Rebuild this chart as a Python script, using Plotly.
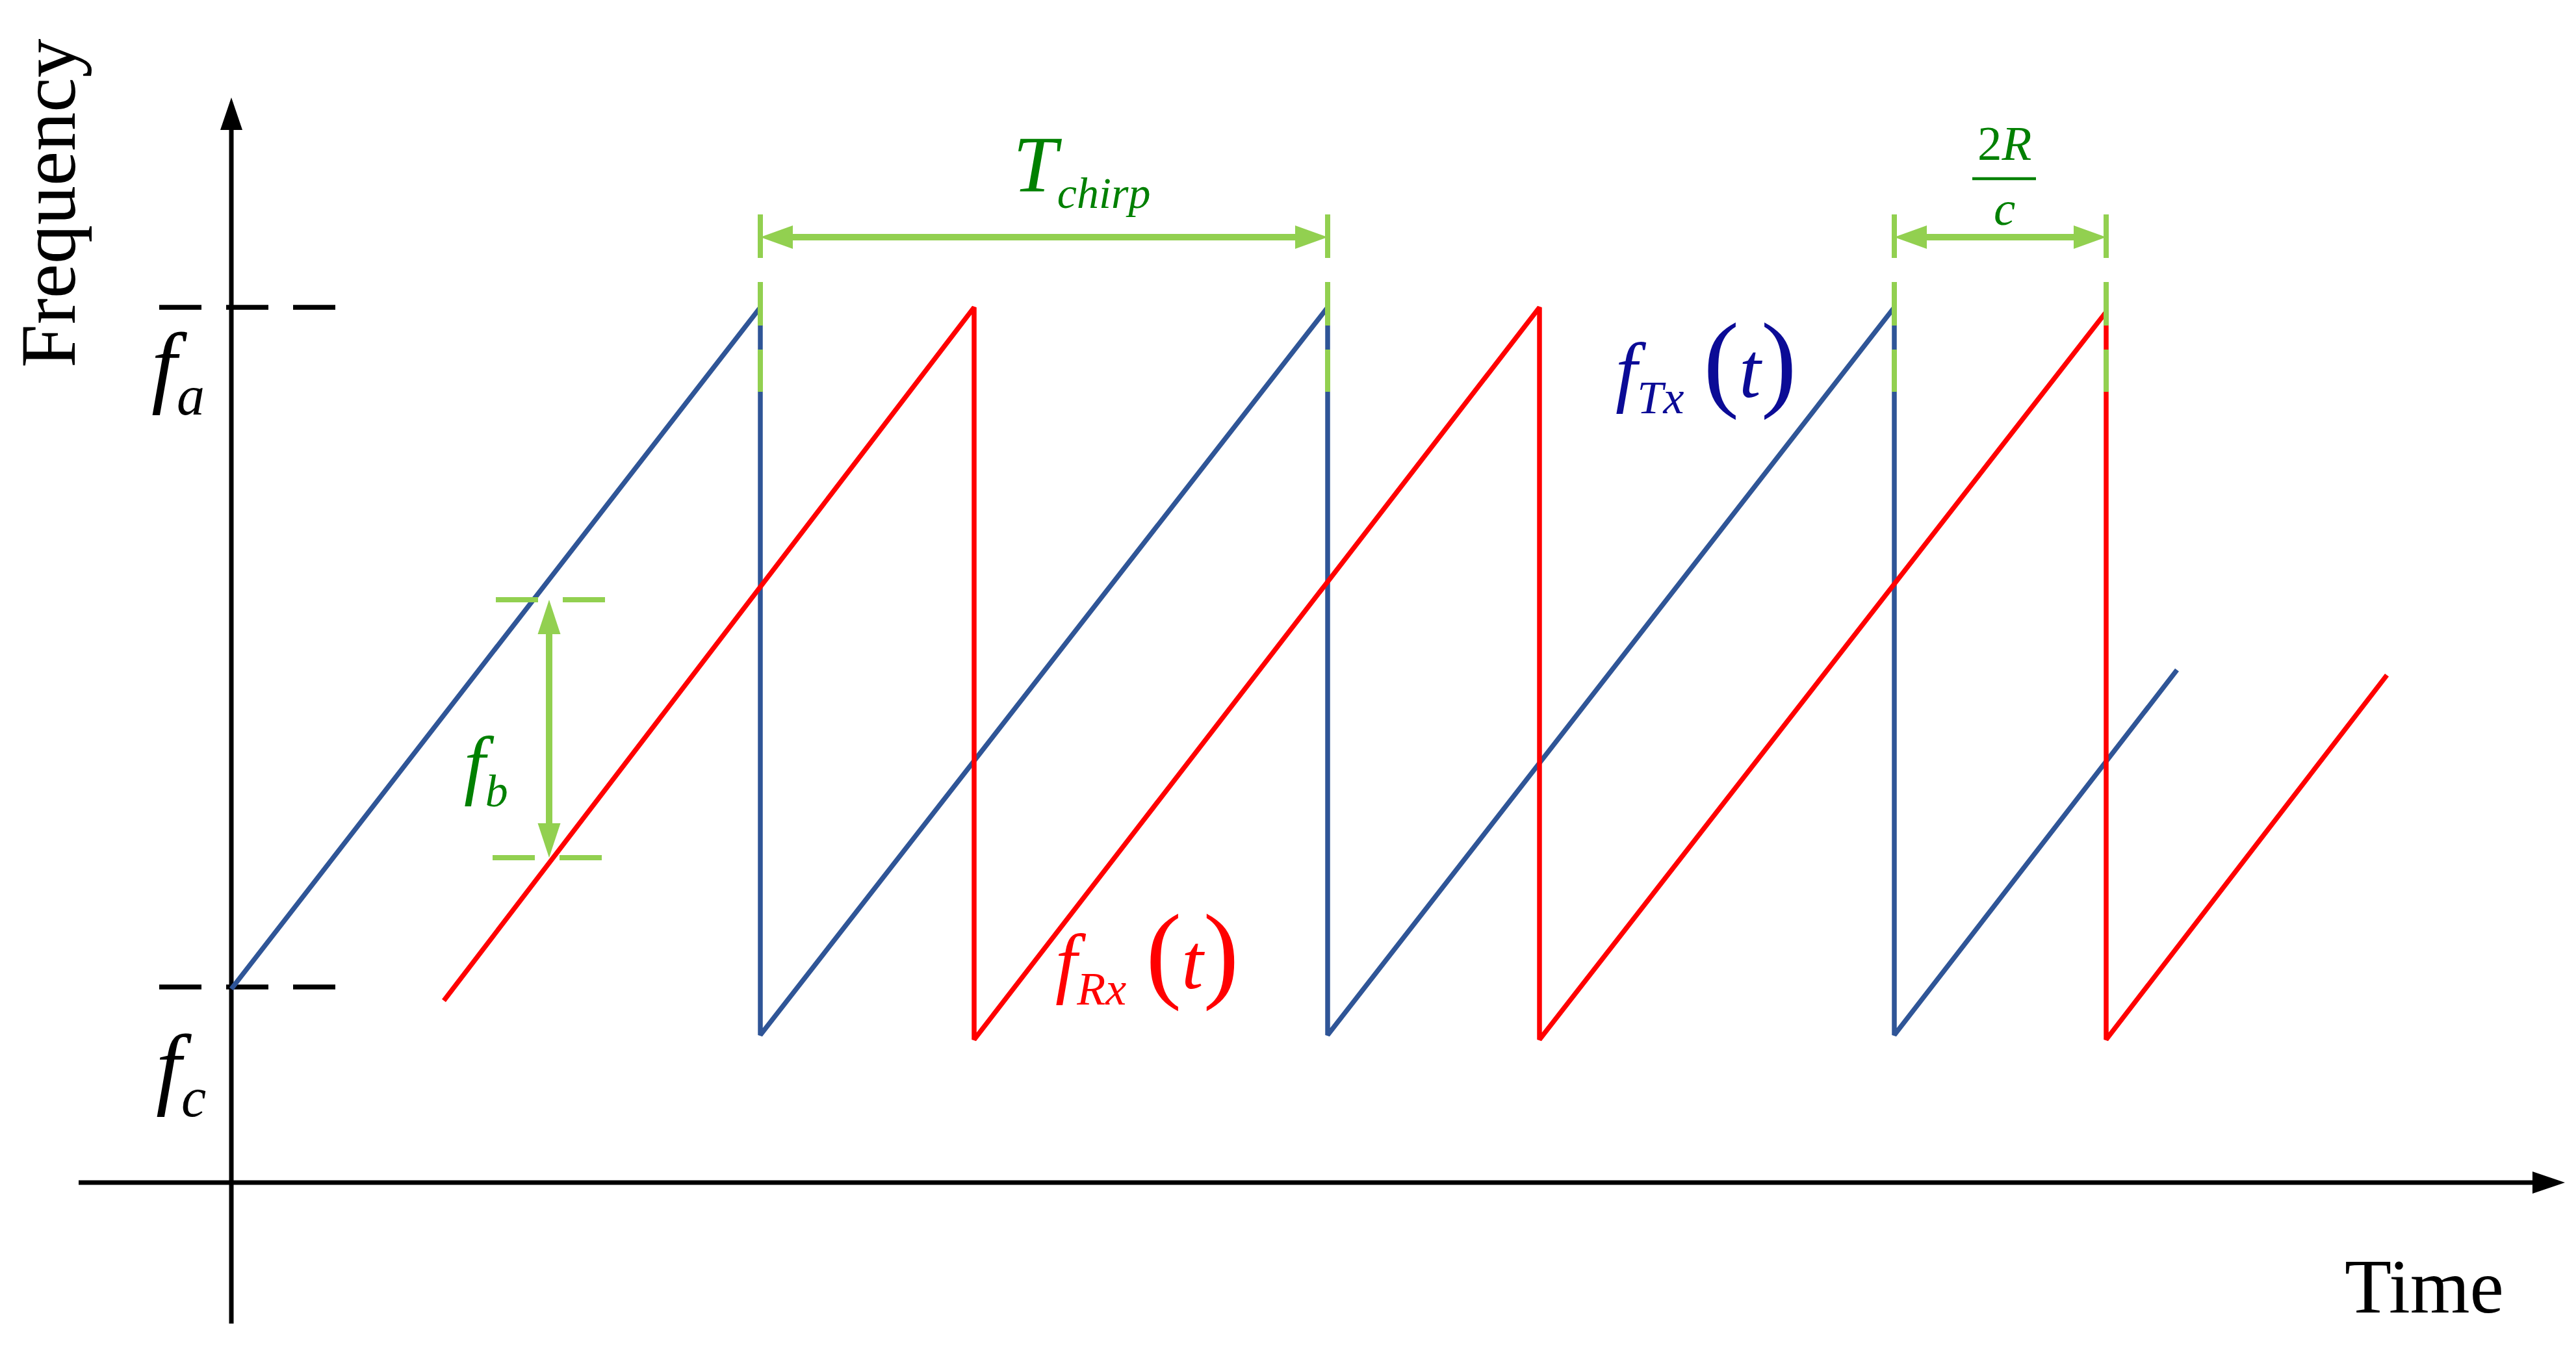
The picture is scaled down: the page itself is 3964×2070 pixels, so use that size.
import plotly.graph_objects as go

# ---------------- data (time / frequency, origin at the axis crossing) ----------------
tx_time = [0, 814, 814, 1687, 1687, 2559, 2559, 2994]
tx_freq = [298, 1347, 227, 1347, 227, 1347, 227, 789]
rx_time = [327, 1143, 1143, 2013, 2013, 2885, 2885, 3317]
rx_freq = [280, 1347, 220, 1347, 220, 1340, 220, 781]

f_c = 301
f_a = 1347
level_dash_time = [-111, 163]

t_chirp_span = [814, 1687]
round_trip_span = [2559, 2885]
span_arrow_freq = 1455
span_tick_freq = [1490, 1217]

beat_time = 489
beat_freq = [897, 500]
beat_dash_time_top = [407, 577]
beat_dash_time_bottom = [402, 572]

time_axis = [-235, 3591]
freq_axis = [-217, 1670]

# ---------------- styles ----------------
PAGE_MARGIN = 8                     # default <body> margin of the html page
W, H = 3964 - 2 * PAGE_MARGIN, 2070 - 2 * PAGE_MARGIN
X0, Y0 = 356 - PAGE_MARGIN, 1820 - PAGE_MARGIN   # screen position of the origin inside the plot
X_RANGE = [-X0, W - X0]
Y_RANGE = [Y0 - H, Y0]
BLUE = "#2F5597"
RED = "#FF0000"
LGREEN = "#92D050"
DGREEN = "#008000"
NAVY = "#0B0B96"
SERIF = "Liberation Serif"

fig = go.Figure()


def line(xs, ys, color, width, dash=None):
    fig.add_trace(go.Scatter(x=xs, y=ys, mode="lines", hoverinfo="skip",
                             line=dict(color=color, width=width, dash=dash)))


def head(tx, ty, dx, dy, length, half, color):
    bx, by = tx - dx * length, ty - dy * length
    px, py = -dy, dx
    fig.add_trace(go.Scatter(
        x=[tx, bx + px * half, bx - px * half, tx],
        y=[ty, by + py * half, by - py * half, ty],
        mode="lines", fill="toself", fillcolor=color, hoverinfo="skip",
        line=dict(color=color, width=0)))


# axes
AX_LEN, AX_HALF = 50, 17
line([time_axis[0], time_axis[1] - AX_LEN + 2], [0, 0], "black", 7)
head(time_axis[1], 0, 1, 0, AX_LEN, AX_HALF, "black")
line([0, 0], [freq_axis[0], freq_axis[1] - AX_LEN + 2], "black", 7)
head(0, freq_axis[1], 0, 1, AX_LEN, AX_HALF, "black")

# dashed level lines f_a / f_c
for lvl in (f_a, f_c):
    line(level_dash_time, [lvl, lvl], "black", 7.5, dash="65px,38px")

# chirps
line(tx_time, tx_freq, BLUE, 7.5)
line(rx_time, rx_freq, RED, 7.5)

# span markers (T_chirp and 2R/c)
HL, HH = 50, 18
for span in (t_chirp_span, round_trip_span):
    for t in span:
        line([t, t], span_tick_freq, LGREEN, 8, dash="67px,37px")
    line([span[0] + HL - 2, span[1] - HL + 2], [span_arrow_freq] * 2, LGREEN, 10)
    head(span[0], span_arrow_freq, -1, 0, HL, HH, LGREEN)
    head(span[1], span_arrow_freq, 1, 0, HL, HH, LGREEN)

# beat frequency marker
line(beat_dash_time_top, [beat_freq[0]] * 2, LGREEN, 8, dash="65px,38px")
line(beat_dash_time_bottom, [beat_freq[1]] * 2, LGREEN, 8, dash="65px,38px")
BL, BH = 53, 17.5
line([beat_time, beat_time], [beat_freq[0] - BL + 2, beat_freq[1] + BL - 2], LGREEN, 10)
head(beat_time, beat_freq[0], 0, 1, BL, BH, LGREEN)
head(beat_time, beat_freq[1], 0, -1, BL, BH, LGREEN)

# fraction bar for 2R/c
line([2679, 2777], [1545, 1545], DGREEN, 4.5)


def label(x, y, text, size, color, angle=0):
    fig.add_annotation(x=x, y=y, text=text, showarrow=False, textangle=angle,
                       xanchor="center", yanchor="middle",
                       font=dict(family=SERIF, size=size, color=color))


def sub(s, size):
    return f'<sub><span style="font-size:{size}px"><i>{s}</i></span></sub>'


label(-282, 1507, "Frequency", 120, "black", angle=-90)
label(3374, -160, "Time", 118, "black")
label(-82, 1250, "<i>f</i>" + sub("a", 86), 140, "black")
label(-78, 170, "<i>f</i>" + sub("c", 86), 140, "black")
label(1308, 1560, "<i>T</i>" + sub("chirp", 68), 122, DGREEN)
label(2728, 1600, "2<i>R</i>", 75, DGREEN)
label(2728, 1500, "<i>c</i>", 75, DGREEN)
label(392, 637, "<i>f</i>" + sub("b", 70), 118, DGREEN)
paren = '<span style="font-size:165px">{}</span>'
label(2269, 1262, "<i>f</i>" + sub("Tx", 72) + " " + paren.format("(") + "<i>t</i>" + paren.format(")"), 120, NAVY)
label(1409, 352, "<i>f</i>" + sub("Rx", 72) + " " + paren.format("(") + "<i>t</i>" + paren.format(")"), 120, RED)

fig.update_layout(
    width=W, height=H, margin=dict(l=0, r=0, t=0, b=0),
    paper_bgcolor="white", plot_bgcolor="white", showlegend=False,
    xaxis=dict(range=X_RANGE, visible=False, fixedrange=True),
    yaxis=dict(range=Y_RANGE, visible=False, fixedrange=True),
)

fig.write_html("out.html")
